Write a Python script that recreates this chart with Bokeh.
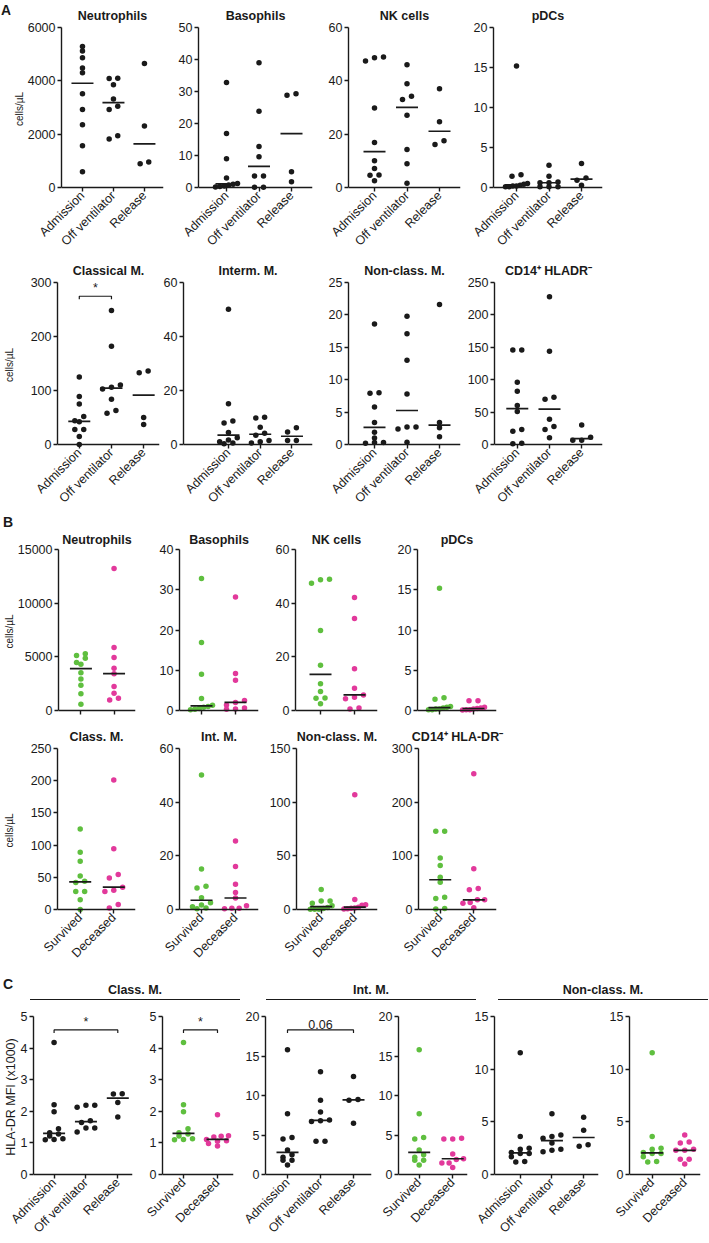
import numpy as np
from bokeh.plotting import figure
from bokeh.models import Range1d, FixedTicker, Div, Spacer, Span
from bokeh.layouts import column, row
from bokeh.core.properties import value
from bokeh.embed import file_html
from bokeh.resources import INLINE

# ---------------- data ----------------
TIME = ["Admission", "Off ventilator", "Release"]
OUTCOME = ["Survived", "Deceased"]

# A: cells/uL over time (admission values double as "Survived" in B)
neut_adm = [5290, 5120, 4870, 4480, 4300, 3520, 2930, 2350, 1570, 590]
neut_off = [4090, 4100, 3850, 3320, 3050, 2930, 1940, 1820]
neut_rel = [4650, 2310, 960, 890]
baso_adm = [32.8, 16.9, 9.0, 3.0, 1.3, 1.0, 0.8, 0.5, 0.3, 0.2]
baso_off = [39.0, 23.8, 12.8, 9.6, 3.6, 3.6, 0.1, 0.1]
baso_rel = [29.3, 28.8, 4.9, 1.8]
nk_adm = [48.9, 48.7, 47.4, 29.8, 16.9, 10.0, 7.1, 4.7, 4.6, 2.5]
nk_off = [46.0, 38.9, 34.2, 33.0, 27.1, 14.3, 8.9, 1.6]
nk_rel = [37.0, 24.7, 17.5, 16.1]
pdc_adm = [15.2, 1.6, 1.4, 0.5, 0.4, 0.3, 0.2, 0.2, 0.1, 0.1]
pdc_off = [2.8, 1.4, 0.7, 0.6, 0.6, 0.1, 0.1, 0.1]
pdc_rel = [3.0, 1.2, 0.9, 0.3]
cm_adm = [125, 89, 75, 52, 44, 42, 28, 28, 15, 0]
cm_off = [248, 182, 110, 106, 103, 84, 63, 58]
cm_rel = [136, 133, 50, 37]
im_adm = [50.1, 15.1, 8.7, 8.0, 4.4, 2.5, 1.7, 1.0, 0.6, 0.3]
im_off = [10.1, 9.8, 6.4, 4.2, 3.4, 1.5, 1.0, 0.6]
im_rel = [6.2, 4.6, 1.5, 1.5]
ncm_adm = [18.6, 8.0, 7.9, 5.8, 3.4, 1.9, 1.0, 0.3, 0.3, 0.2]
ncm_off = [19.8, 17.1, 13.0, 7.8, 2.7, 2.7, 2.4, 0.35]
ncm_rel = [21.6, 3.4, 2.6, 1.2]
cd14_adm = [146, 146, 96, 82, 60, 51, 23, 20.5, 2, 1]
cd14_off = [228, 144, 73, 70, 39, 27.7, 23, 10.3]
cd14_rel = [30, 11.3, 6.7, 6.7]

# B: deceased patients (admission)
neut_dec = [13240, 5880, 4950, 3930, 3430, 2230, 1610, 1140, 990]
baso_dec = [28.2, 9.2, 7.5, 2.5, 2.0, 1.4, 0.6, 0.4, 0.3]
nk_dec = [42.1, 34.3, 15.6, 8.3, 5.8, 4.9, 4.4, 0.9, 0.6]
pdc_dec = [1.2, 1.2, 0.4, 0.3, 0.25, 0.2, 0.1, 0.1, 0.05]
cm_dec = [201, 94.5, 54.2, 49.1, 34.7, 30, 27.9, 7.7, 2.2]
im_dec = [25.5, 16.0, 9.4, 6.3, 4.3, 1.4, 0.5, 0.5, 0.3]
ncm_dec = [107, 9.3, 4.4, 4.0, 2.2, 1.5, 1.2, 0.8, 0.5]
cd14_dec = [253, 76, 39, 36.6, 18, 18, 13, 11.9, 3.2]

# C: HLA-DR MFI (x1000)
hla_cm_adm = [4.18, 2.21, 1.99, 1.45, 1.32, 1.28, 1.22, 1.13, 1.11, 1.10]
hla_cm_off = [2.19, 2.19, 2.13, 1.70, 1.65, 1.47, 1.47, 1.35]
hla_cm_rel = [2.56, 2.55, 2.28, 1.82]
hla_cm_dec = [1.89, 1.23, 1.21, 1.19, 1.11, 1.07, 1.05, 0.98, 0.90]
hla_im_adm = [15.8, 7.7, 4.7, 4.5, 3.1, 2.5, 2.2, 1.8, 1.8, 1.2]
hla_im_off = [13.0, 9.4, 7.9, 6.9, 6.8, 6.7, 4.2, 4.2]
hla_im_rel = [12.4, 9.5, 9.4, 6.5]
hla_im_dec = [4.6, 4.5, 4.5, 2.6, 2.0, 1.9, 1.45, 1.45, 0.9]
hla_ncm_adm = [11.55, 3.6, 2.5, 2.4, 2.1, 2.0, 2.0, 1.7, 1.25, 1.2]
hla_ncm_off = [5.76, 3.76, 3.6, 3.45, 3.0, 2.4, 2.3, 2.16]
hla_ncm_rel = [5.45, 4.2, 2.83, 2.68]
hla_ncm_dec = [3.76, 3.1, 3.0, 2.4, 2.3, 2.3, 1.45, 1.45, 1.0]

titles_A1 = ["Neutrophils", "Basophils", "NK cells", "pDCs"]
titles_A2 = ["Classical M.", "Interm. M.", "Non-class. M.", "CD14\u207a HLADR\u207b"]
titles_B1 = ["Neutrophils", "Basophils", "NK cells", "pDCs"]
titles_B2 = ["Class. M.", "Int. M.", "Non-class. M.", "CD14\u207a HLA-DR\u207b"]
headers_C = ["Class. M.", "Int. M.", "Non-class. M."]
ymax_A1 = [6000, 50, 60, 20]
ystep_A1 = [2000, 10, 20, 5]
ymax_A2 = [300, 60, 25, 250]
ystep_A2 = [100, 20, 5, 50]
ymax_B1 = [15000, 40, 60, 20]
ystep_B1 = [5000, 10, 20, 5]
ymax_B2 = [250, 60, 150, 300]
ystep_B2 = [50, 20, 50, 100]
ymax_C = [5, 5, 20, 20, 15, 15]
ystep_C = [1, 1, 5, 5, 5, 5]
# significance annotations: (panel, group i, group j, label)
comps_A2 = [(0, 0, 1, "*")]
comps_C = [(0, 0, 2, "*"), (1, 0, 1, "*"), (2, 0, 2, "0.06")]

# ---------------- style / layout ----------------
FONT = "Liberation Sans"
FONT_CSS = "'Liberation Sans', Arial, sans-serif"
INK = "#1a1a1a"
GREEN = "#5fbf3f"
MAGENTA = "#e2399b"
DELTA = 3          # px the frame extends below the zero line
THR, SPREAD, MAXW = 4.5, 9.0, 22.0
BRACKET = 0.915
TICK_FS = 12.5

# (fig_left, fig_right, frame_left, frame_right, category px)
A1_H = [(10, 172, 56, 163, [78, 110, 143]), (172, 320, 198, 312, [226, 258, 291]),
        (320, 468, 348, 460, [374, 407, 439]), (468, 610, 493, 602, [516, 548, 581])]
A2_H = [(0, 160, 56, 159, [78, 110, 143]), (160, 320, 180, 312, [226, 258, 291]),
        (320, 464, 348, 460, [374, 407, 439]), (464, 610, 493, 602, [516, 548, 581])]
B_H = [(0, 150, 56, 135, [79, 113]), (150, 266, 179, 258, [201, 235]),
       (266, 388, 295, 377, [320, 354]), (388, 505, 417, 496, [439, 473])]
C_H = [(0, 143, 31, 132, [52, 84, 117]), (143, 240, 162, 233, [183, 217]),
       (240, 375, 265, 371, [287, 320, 353]), (375, 471, 397, 467, [418, 452]),
       (471, 606, 493, 598, [519, 552, 583]), (606, 709, 628, 700, [651, 684])]
# (fig_top, fig_bottom, frame_top(ymax), zero line)
A1_V = (0, 256, 27, 189)
A2_V = (256, 514, 282, 444)
B1_V = (528, 722, 548, 710)
B2_V = (722, 972, 747, 909)
C_V = (1000, 1243, 1016, 1177)


def swarm(vals, ppu, pitch):
    idx = sorted(range(len(vals)), key=lambda i: -vals[i])
    rows = []
    for i in idx:
        if rows and (vals[rows[-1][0]] - vals[i]) * ppu <= THR:
            rows[-1].append(i)
        else:
            rows.append([i])
    offs = [0.0] * len(vals)
    for r in rows:
        r = sorted(r, key=lambda i: vals[i])
        m = len(r)
        step = SPREAD if m <= 3 else min(SPREAD, MAXW / (m - 1))
        for k, i in enumerate(r):
            offs[i] = (k - (m - 1) / 2) * step / pitch
    return offs


def make_panel(groups, series, colors, ymax, ystep, title, hg, vg, ylabel=None,
               ylabel_size=10, comps=(), show_x=True):
    fig_l, fig_r, fr_l, fr_r, cats = hg
    fig_t, fig_b, top_px, zero_px = vg
    n = len(groups)
    pitch = (cats[-1] - cats[0]) / (n - 1)
    ppu = (zero_px - top_px) / ymax
    frame_b = zero_px + DELTA
    bl = fr_l - fig_l
    bt = top_px - fig_t
    p = figure(width=fig_r - fig_l, height=fig_b - fig_t, title=title,
               x_range=Range1d(-(cats[0] - fr_l) / pitch, (n - 1) + (fr_r - cats[-1]) / pitch),
               y_range=Range1d(-DELTA / ppu, ymax),
               min_border_left=bl, min_border_right=fig_r - fr_r,
               min_border_top=bt, min_border_bottom=fig_b - frame_b,
               output_backend="svg", toolbar_location=None, tools="")
    p.xgrid.visible = False
    p.ygrid.visible = False
    p.outline_line_color = None
    p.background_fill_color = "white"
    p.border_fill_color = "white"
    if title:
        p.title.align = "center"
        p.title.text_font = FONT
        p.title.text_font_size = "12.5px"
        p.title.text_font_style = "bold"
        p.title.text_color = INK
        p.title.standoff = max(0, min(10, bt - 15))
    xa = p.xaxis[0]
    ya = p.yaxis[0]
    xa.ticker = FixedTicker(ticks=list(range(n)))
    xa.major_label_overrides = {i: (g if show_x else "") for i, g in enumerate(groups)}
    xa.major_label_orientation = np.pi / 4
    nt = int(round(ymax / ystep))
    yticks = [k * ystep for k in range(nt + 1)]
    ya.ticker = FixedTicker(ticks=yticks)
    ya.bounds = (0, ymax)
    for ax in (xa, ya):
        ax.axis_line_width = 1.4
        ax.axis_line_color = INK
        ax.major_tick_line_width = 1.4
        ax.major_tick_line_color = INK
        ax.minor_tick_line_color = None
        ax.major_label_text_font = FONT
        ax.major_label_text_font_size = "%gpx" % TICK_FS
        ax.major_label_text_color = INK
        ax.major_label_standoff = 2
    ya.major_tick_out = 4
    ya.major_tick_in = 0
    # x axis line drawn at the zero line; ticks hang 4px below it
    xa.axis_line_color = None
    xa.major_tick_in = DELTA
    xa.major_tick_out = 4 - DELTA
    p.add_layout(Span(location=0, dimension="width", line_color=INK, line_width=1.4))
    if ylabel:
        lab_w = max(len(str(t)) for t in yticks) * 0.556 * TICK_FS
        lab_h = ylabel_size * 1.2
        ya.axis_label = ylabel
        ya.axis_label_text_font = FONT
        ya.axis_label_text_font_size = "%gpx" % ylabel_size
        ya.axis_label_text_font_style = "normal"
        ya.axis_label_text_color = INK
        ya.axis_label_standoff = max(0, int(bl - 6 - lab_w - lab_h - 4))
    for gi, (vals, col) in enumerate(zip(series, colors)):
        offs = swarm(vals, ppu, pitch)
        p.scatter([gi + o for o in offs], vals, marker="circle", size=5.5,
                  fill_color=col, line_color=None)
    for gi, vals in enumerate(series):
        p.scatter([gi], [float(np.median(vals))], marker="dash", size=22,
                  line_color=INK, line_width=1.7)
    for (i, j, txt) in comps:
        yb = BRACKET * ymax
        d = 3 / ppu
        p.line([i, i, j, j], [yb - d, yb, yb, yb - d], line_color=INK, line_width=1.2)
        p.text([(i + j) / 2], [yb], text=[txt], text_align="center", text_baseline="bottom",
               text_font=value(FONT), text_font_size="12.5px", text_color=INK, y_offset=-1)
    return p


def build_figs(titles, series_list, groups, colors, ymaxs, ysteps, H, V, ylabel,
               ylabel_size=10, comps=(), show_x=True):
    figs = []
    for k in range(len(series_list)):
        figs.append(make_panel(
            groups[k], series_list[k], colors[k], ymaxs[k], ysteps[k],
            titles[k] if titles else None, H[k], V,
            ylabel=ylabel if k == 0 else None, ylabel_size=ylabel_size,
            comps=[(i, j, t) for (pk, i, j, t) in comps if pk == k],
            show_x=show_x))
    return figs


def letter_div(txt, w, h, pad_top=1, pad_left=2):
    html = ('<div style="font-family:%s;font-weight:bold;font-size:14px;color:%s;'
            'padding-top:%dpx;padding-left:%dpx;line-height:14px;">%s</div>') % (FONT_CSS, INK, pad_top, pad_left, txt)
    return Div(text=html, width=w, height=h, margin=0)


T3 = [INK, INK, INK]
O2 = [GREEN, MAGENTA]

figsA1 = build_figs(titles_A1,
                    [[neut_adm, neut_off, neut_rel], [baso_adm, baso_off, baso_rel],
                     [nk_adm, nk_off, nk_rel], [pdc_adm, pdc_off, pdc_rel]],
                    [TIME] * 4, [T3] * 4, ymax_A1, ystep_A1, A1_H, A1_V, "cells/\u00b5L")
rowA1 = row(letter_div("A", A1_H[0][0], A1_V[1] - A1_V[0], pad_top=3, pad_left=1), *figsA1)

figsA2 = build_figs(titles_A2,
                    [[cm_adm, cm_off, cm_rel], [im_adm, im_off, im_rel],
                     [ncm_adm, ncm_off, ncm_rel], [cd14_adm, cd14_off, cd14_rel]],
                    [TIME] * 4, [T3] * 4, ymax_A2, ystep_A2, A2_H, A2_V,
                    "cells/\u00b5L", comps=comps_A2)
rowA2 = row(*figsA2)

rowBl = row(letter_div("B", 30, B1_V[0] - A2_V[1], pad_top=1, pad_left=3))

figsB1 = build_figs(titles_B1,
                    [[neut_adm, neut_dec], [baso_adm, baso_dec], [nk_adm, nk_dec], [pdc_adm, pdc_dec]],
                    [OUTCOME] * 4, [O2] * 4, ymax_B1, ystep_B1, B_H, B1_V,
                    "cells/\u00b5L", show_x=False)
rowB1 = row(*figsB1)

figsB2 = build_figs(titles_B2,
                    [[cm_adm, cm_dec], [im_adm, im_dec], [ncm_adm, ncm_dec], [cd14_adm, cd14_dec]],
                    [OUTCOME] * 4, [O2] * 4, ymax_B2, ystep_B2, B_H, B2_V, "cells/\u00b5L")
rowB2 = row(*figsB2)

figsC = build_figs(None,
                   [[hla_cm_adm, hla_cm_off, hla_cm_rel], [hla_cm_adm, hla_cm_dec],
                    [hla_im_adm, hla_im_off, hla_im_rel], [hla_im_adm, hla_im_dec],
                    [hla_ncm_adm, hla_ncm_off, hla_ncm_rel], [hla_ncm_adm, hla_ncm_dec]],
                   [TIME, OUTCOME, TIME, OUTCOME, TIME, OUTCOME],
                   [T3, O2, T3, O2, T3, O2], ymax_C, ystep_C, C_H, C_V,
                   "HLA-DR MFI (x1000)", ylabel_size=12.5, comps=comps_C)
rowC = row(*figsC)

HDR_T, HDR_B = B2_V[1], C_V[0]
HDR_H = HDR_B - HDR_T


def header_div(txt, w):
    html = ('<div style="box-sizing:border-box;width:%dpx;height:%dpx;padding-top:11px;'
            'text-align:center;font-family:%s;font-weight:bold;line-height:14px;'
            'font-size:12.5px;color:%s;border-bottom:1.5px solid %s;">%s</div>') % (
        w, HDR_H, FONT_CSS, INK, INK, txt)
    return Div(text=html, width=w, height=HDR_H, margin=0)


hdr_row = row(letter_div("C", 30, HDR_H, pad_top=5, pad_left=3),
              header_div(headers_C[0], 210), Spacer(width=26, height=HDR_H, margin=0),
              header_div(headers_C[1], 210), Spacer(width=22, height=HDR_H, margin=0),
              header_div(headers_C[2], 210))

layout = column(rowA1, rowA2, rowBl, rowB1, rowB2, hdr_row, rowC)

with open("out.html", "w", encoding="utf-8") as f:
    f.write(file_html(layout, INLINE))
